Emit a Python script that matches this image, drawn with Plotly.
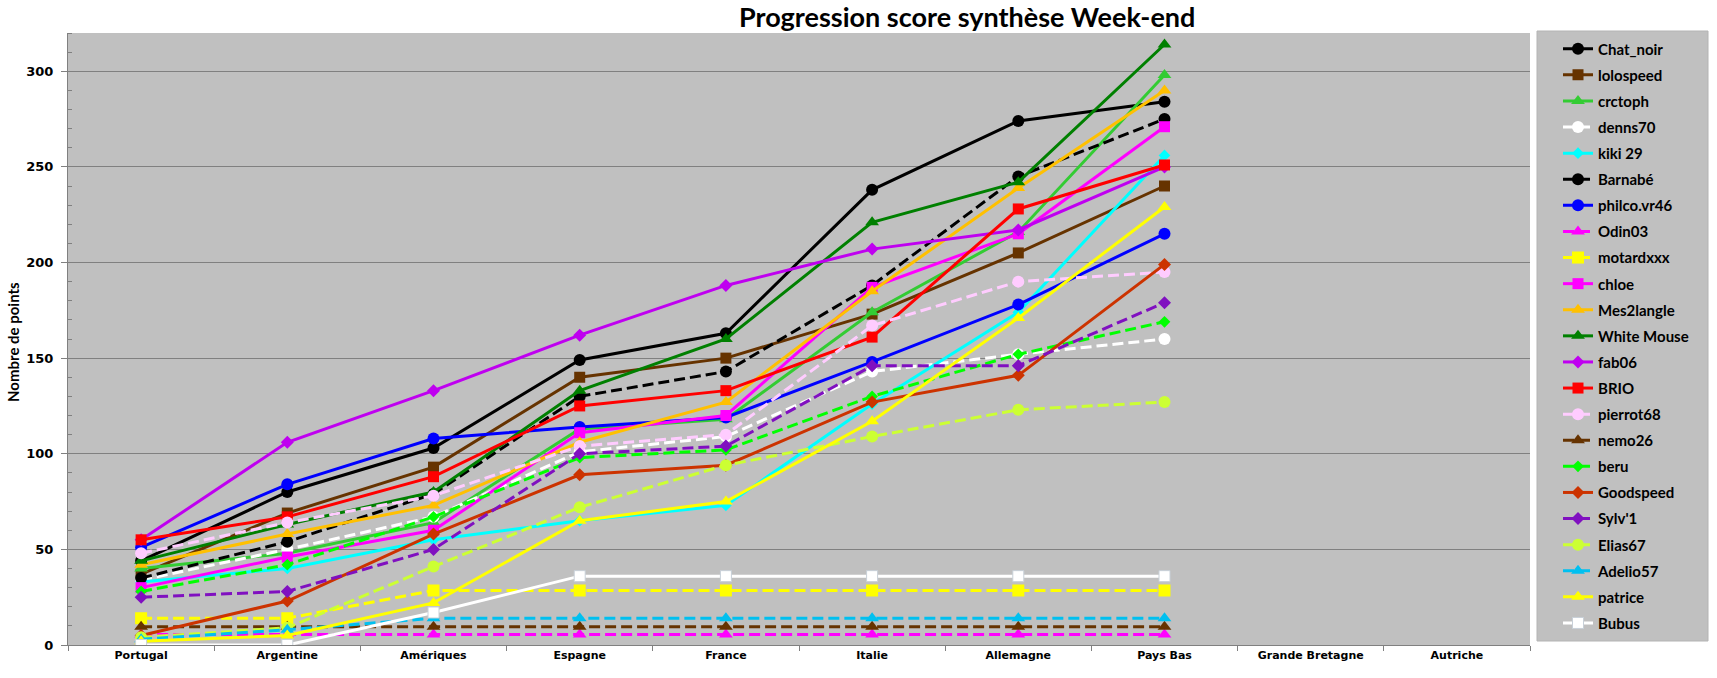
import plotly.graph_objects as go

categories = ["Portugal", "Argentine", "Amériques", "Espagne", "France", "Italie",
              "Allemagne", "Pays Bas", "Grande Bretagne", "Autriche"]

chat_noir = [44, 80, 103, 149, 163, 238, 274, 284, None, None]
lolospeed = [37, 69, 93, 140, 150, 173, 205, 240, None, None]
crctoph = [40, 48, 64, 113, 118, 174, 216, 298, None, None]
denns70 = [34, 50, 67, 101, 109, 143, 152, 160, None, None]
kiki29 = [33, 40, 55, 65, 73, 126, 174, 256, None, None]
barnabe = [35, 54, 79, 130, 143, 188, 245, 275, None, None]
philco = [51, 84, 108, 114, 119, 148, 178, 215, None, None]
odin03 = [5.5, 5.5, 5.5, 5.5, 5.5, 5.5, 5.5, 5.5, None, None]
motardxxx = [14, 14, 28.5, 28.5, 28.5, 28.5, 28.5, 28.5, None, None]
chloe = [30, 46, 60, 111, 120, 187, 215, 271, None, None]
mes2langle = [42, 58, 73, 106, 127, 185, 239, 290, None, None]
white_mouse = [44, 63, 80, 133, 160, 221, 242, 314, None, None]
fab06 = [55, 106, 133, 162, 188, 207, 217, 250, None, None]
brio = [55, 67, 88, 125, 133, 161, 228, 251, None, None]
pierrot68 = [48, 64, 78, 104, 110, 167, 190, 195, None, None]
nemo26 = [9.5, 9.5, 9.5, 9.5, 9.5, 9.5, 9.5, 9.5, None, None]
beru = [28, 42, 67, 98, 102, 130, 152, 169, None, None]
goodspeed = [5, 23, 58, 89, 94, 127, 141, 199, None, None]
sylv1 = [25, 28, 50, 100, 104, 146, 146, 179, None, None]
elias67 = [4, 9, 41, 72, 94, 109, 123, 127, None, None]
adelio57 = [3, 8, 14, 14, 14, 14, 14, 14, None, None]
patrice = [2, 5, 22, 65, 75, 117, 171, 229, None, None]
bubus = [0, 0, 17, 36, 36, 36, 36, 36, None, None]

DASH = "11px,5px"
# name, values, color, dash, symbol, size
series = [
    ("Chat_noir", chat_noir, "#000000", "solid", "circle", 12),
    ("lolospeed", lolospeed, "#663300", "solid", "square", 11),
    ("crctoph", crctoph, "#33CC33", "solid", "triangle-up", 12),
    ("denns70", denns70, "#FFFFFF", DASH, "circle", 12),
    ("kiki 29", kiki29, "#00FFFF", "solid", "diamond", 9),
    ("Barnabé", barnabe, "#000000", DASH, "circle", 12),
    ("philco.vr46", philco, "#0000FF", "solid", "circle", 12),
    ("Odin03", odin03, "#FF00FF", DASH, "triangle-up", 12),
    ("motardxxx", motardxxx, "#FFFF00", DASH, "square", 12),
    ("chloe", chloe, "#FF00FF", "solid", "square", 11),
    ("Mes2langle", mes2langle, "#FFC000", "solid", "triangle-up", 12),
    ("White Mouse", white_mouse, "#008000", "solid", "triangle-up", 12),
    ("fab06", fab06, "#BF00F0", "solid", "diamond", 10),
    ("BRIO", brio, "#FF0000", "solid", "square", 11),
    ("pierrot68", pierrot68, "#FFCCFF", DASH, "circle", 12),
    ("nemo26", nemo26, "#663300", DASH, "triangle-up", 12),
    ("beru", beru, "#00FF00", DASH, "diamond", 9),
    ("Goodspeed", goodspeed, "#CC3300", "solid", "diamond", 10),
    ("Sylv'1", sylv1, "#8010C0", DASH, "diamond", 10),
    ("Elias67", elias67, "#CCFF33", DASH, "circle", 12),
    ("Adelio57", adelio57, "#00C0F0", DASH, "triangle-up", 12),
    ("patrice", patrice, "#FFFF00", "solid", "triangle-up", 12),
    ("Bubus", bubus, "#FFFFFF", "solid", "square", 11),
]

fig = go.Figure()
for name, vals, color, dash, symbol, size in series:
    mline = dict(width=1, color="#C8D0D8") if name == "Bubus" else dict(width=0)
    fig.add_trace(go.Scatter(
        x=categories, y=vals, name=name, mode="lines+markers",
        legendgroup=name, connectgaps=False,
        line=dict(color=color, width=3, dash=dash),
        marker=dict(symbol=symbol, size=size, color=color, line=mline),
    ))

L, R, T, B = 68, 187, 33, 33
W, H = 1717, 678
pw, ph = W - L - R, H - T - B

def px_x(x):
    return (x - L) / pw

def px_y(y):
    return (H - B - y) / ph

fig.update_layout(
    width=W, height=H,
    margin=dict(l=L, r=R, t=T, b=B, autoexpand=False),
    paper_bgcolor="#FFFFFF",
    plot_bgcolor="#C0C0C0",
    showlegend=True,
    legend=dict(
        x=px_x(1558), xanchor="left", y=px_y(336), yanchor="middle",
        bgcolor="rgba(0,0,0,0)", borderwidth=0,
        font=dict(family="Lato", size=15, color="#000000", weight="bold"),
        tracegroupgap=3.6, traceorder="grouped",
    ),
    xaxis=dict(
        type="category", categoryorder="array", categoryarray=categories,
        range=[-0.5, 9.5], showgrid=False, zeroline=False,
        showline=True, linecolor="#808080", linewidth=1,
        ticks="outside", tickson="boundaries", ticklen=5, tickcolor="#808080",
        tickfont=dict(family="DejaVu Sans", size=11, color="#000000", weight="bold"),
        fixedrange=True,
    ),
    yaxis=dict(
        range=[0, 320], dtick=50, tick0=0, showgrid=True,
        gridcolor="#808080", gridwidth=1, zeroline=False,
        showline=True, linecolor="#808080", linewidth=1,
        ticks="outside", ticklen=6, tickcolor="#808080",
        minor=dict(dtick=10, ticks="inside", ticklen=4, tickcolor="#808080", showgrid=False),
        tickfont=dict(family="DejaVu Sans", size=13, color="#000000", weight="bold"),
        ticklabelstandoff=5,
        fixedrange=True,
    ),
    shapes=[dict(
        type="rect", xref="paper", yref="paper", layer="below",
        x0=px_x(1537), x1=px_x(1708), y0=px_y(641), y1=px_y(31),
        fillcolor="#C0C0C0", line=dict(color="#B4B4B4", width=1),
    )],
    annotations=[
        dict(text="Progression score synthèse Week-end", xref="paper", yref="paper",
             x=px_x(967), y=px_y(16), xanchor="center", yanchor="middle",
             showarrow=False,
             font=dict(family="Lato", size=27, color="#000000", weight="bold")),
        dict(text="Nombre de points", xref="paper", yref="paper",
             x=px_x(13), y=px_y(342), xanchor="center", yanchor="middle",
             textangle=-90, showarrow=False,
             font=dict(family="Lato", size=15, color="#000000", weight="bold")),
    ],
)

fig.write_html("out.html")
